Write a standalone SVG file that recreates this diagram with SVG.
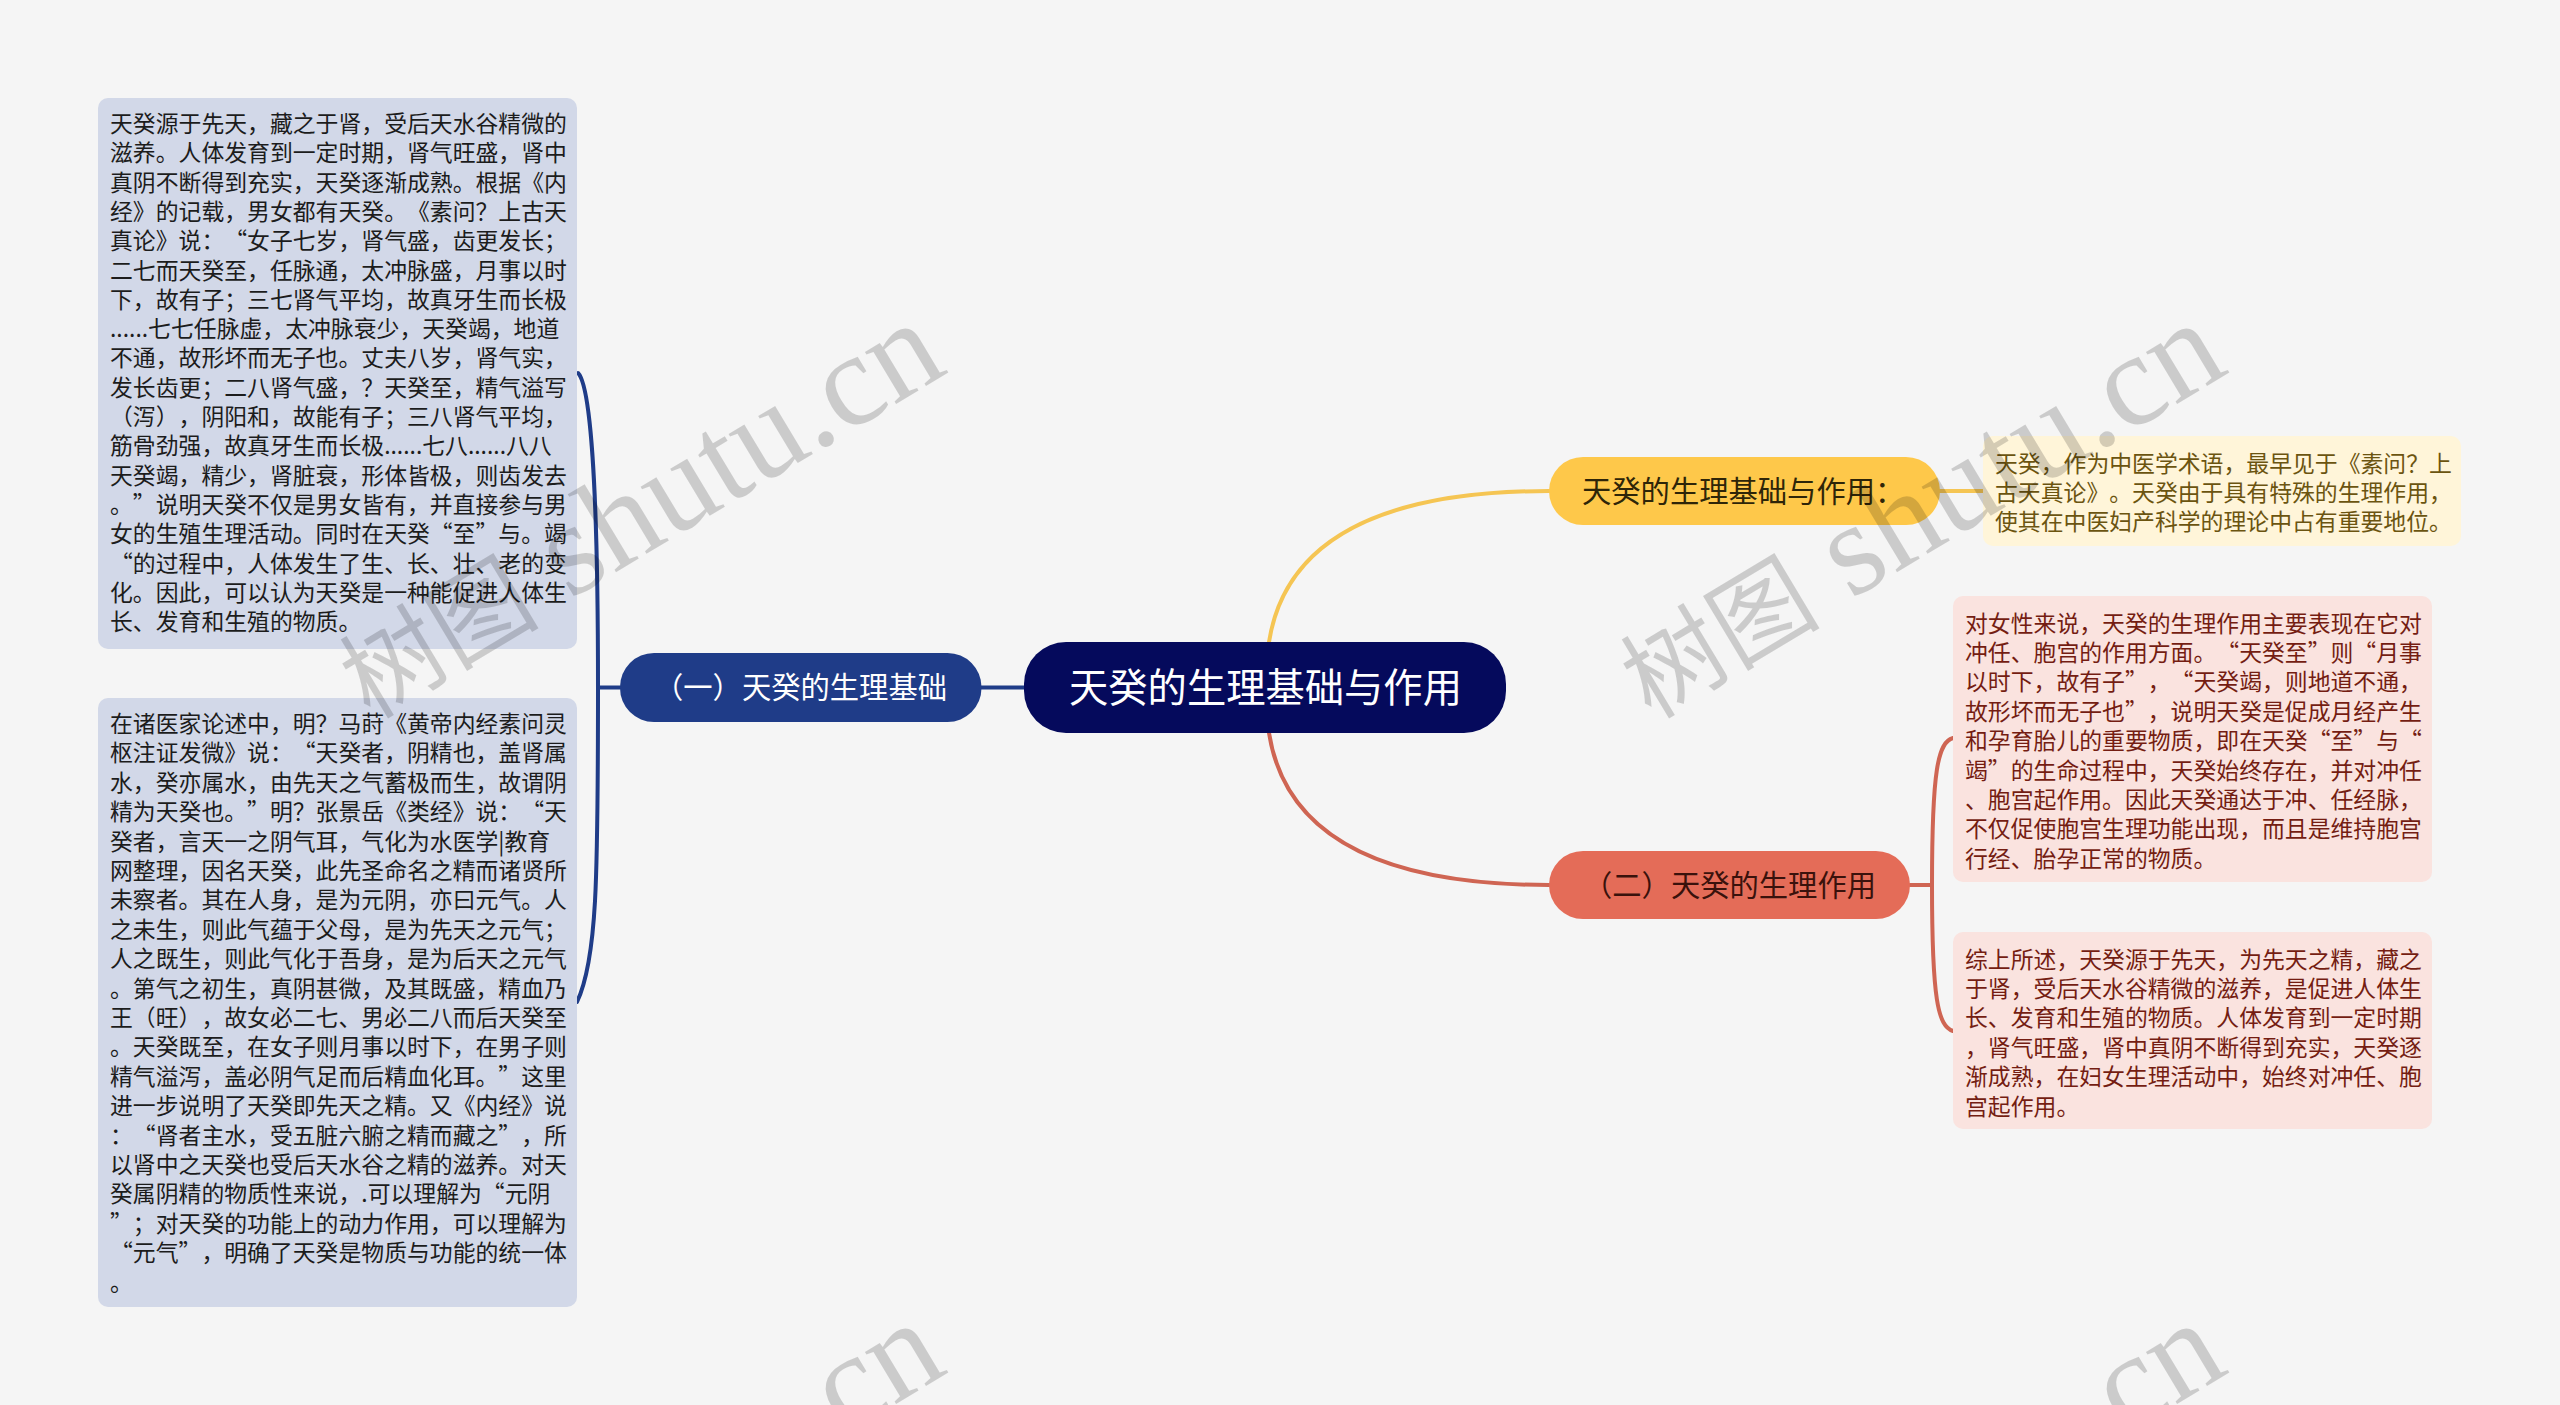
<svg xmlns="http://www.w3.org/2000/svg" width="2560" height="1405" viewBox="0 0 2560 1405">
<style>
text{font-family:"Noto Sans CJK SC","Liberation Sans",sans-serif;white-space:pre;text-spacing-trim:space-all}
.d{font-size:22.85px}
.n{font-size:29.3px}
.c{fill:none;stroke-width:4;stroke-linecap:round}
.bl{stroke:#1f3c88}
.ye{stroke:#f5c553}
.re{stroke:#cf6553}
.wm{font-family:"Liberation Serif","Noto Sans CJK SC",serif;font-size:132px;fill:#000;fill-opacity:.17}
.wm .cj{font-size:100px}
</style>
<rect width="2560" height="1405" fill="#f5f5f5"/>
<g id="connectors">
<path class="c bl" d="M981,687.5H1024"/>
<path class="c bl" d="M620,687.500H598"/>
<path class="c bl" d="M578,373C590,385 598,480 598,687C598,880 597,960 577,1002"/>
<path class="c ye" d="M1269,642C1285,540 1380,491 1549,491"/>
<path class="c re" d="M1269,733C1285,835 1380,885 1549,885"/>
<path class="c ye" d="M1940,491H1983"/>
<path class="c re" d="M1910,885H1932"/>
<path class="c re" d="M1953,738C1938,742 1932,770 1932,885C1932,1000 1938,1026 1953,1031"/>
</g>
<g id="root"><rect x="1024" y="642" width="482" height="91" rx="42" fill="#050a5c"/><text x="1069" y="702" font-size="39.300" fill="#fff">天癸的生理基础与作用</text></g>
<g id="branch-1"><rect x="620" y="653" width="361.500" height="69" rx="34" fill="#1f3c88"/><text class="n" x="654" y="698" fill="#fff">（一）天癸的生理基础</text></g>
<g id="branch-yellow"><rect x="1549" y="457" width="391" height="68" rx="34" fill="#fec84a"/><text class="n" x="1582" y="502" fill="#2e2508">天癸的生理基础与作用：</text></g>
<g id="branch-2"><rect x="1549" y="851" width="361" height="68" rx="34" fill="#e46c58"/><text class="n" x="1583" y="896" fill="#3a120c">（二）天癸的生理作用</text></g>
<g id="leaf-1">
<rect x="98" y="98" width="479" height="551" rx="10" fill="#d2d8e8"/>
<g fill="#1c1c1c">
<text class="d" x="110" y="132">天癸源于先天，藏之于肾，受后天水谷精微的</text>
<text class="d" x="110" y="161.300">滋养。人体发育到一定时期，肾气旺盛，肾中</text>
<text class="d" x="110" y="190.600">真阴不断得到充实，天癸逐渐成熟。根据《内</text>
<text class="d" x="110" y="219.900">经》的记载，男女都有天癸。《素问？上古天</text>
<text class="d" x="110" y="249.200">真论》说：“女子七岁，肾气盛，齿更发长；</text>
<text class="d" x="110" y="278.500">二七而天癸至，任脉通，太冲脉盛，月事以时</text>
<text class="d" x="110" y="307.800">下，故有子；三七肾气平均，故真牙生而长极</text>
<text class="d" x="110" y="337.100">......七七任脉虚，太冲脉衰少，天癸竭，地道</text>
<text class="d" x="110" y="366.400">不通，故形坏而无子也。丈夫八岁，肾气实，</text>
<text class="d" x="110" y="395.700">发长齿更；二八肾气盛，？天癸至，精气溢写</text>
<text class="d" x="110" y="425">（泻），阴阳和，故能有子；三八肾气平均，</text>
<text class="d" x="110" y="454.300">筋骨劲强，故真牙生而长极......七八......八八</text>
<text class="d" x="110" y="483.600">天癸竭，精少，肾脏衰，形体皆极，则齿发去</text>
<text class="d" x="110" y="512.900">。”说明天癸不仅是男女皆有，并直接参与男</text>
<text class="d" x="110" y="542.200">女的生殖生理活动。同时在天癸“至”与。竭</text>
<text class="d" x="110" y="571.500">“的过程中，人体发生了生、长、壮、老的变</text>
<text class="d" x="110" y="600.800">化。因此，可以认为天癸是一种能促进人体生</text>
<text class="d" x="110" y="630.100">长、发育和生殖的物质。</text>
</g></g>
<g id="leaf-2">
<rect x="98" y="698" width="479" height="609" rx="10" fill="#d2d8e8"/>
<g fill="#1c1c1c">
<text class="d" x="110" y="732">在诸医家论述中，明？马莳《黄帝内经素问灵</text>
<text class="d" x="110" y="761.400">枢注证发微》说：“天癸者，阴精也，盖肾属</text>
<text class="d" x="110" y="790.800">水，癸亦属水，由先天之气蓄极而生，故谓阴</text>
<text class="d" x="110" y="820.200">精为天癸也。”明？张景岳《类经》说：“天</text>
<text class="d" x="110" y="849.600">癸者，言天一之阴气耳，气化为水医学|教育</text>
<text class="d" x="110" y="879">网整理，因名天癸，此先圣命名之精而诸贤所</text>
<text class="d" x="110" y="908.400">未察者。其在人身，是为元阴，亦曰元气。人</text>
<text class="d" x="110" y="937.800">之未生，则此气蕴于父母，是为先天之元气；</text>
<text class="d" x="110" y="967.200">人之既生，则此气化于吾身，是为后天之元气</text>
<text class="d" x="110" y="996.600">。第气之初生，真阴甚微，及其既盛，精血乃</text>
<text class="d" x="110" y="1026">王（旺），故女必二七、男必二八而后天癸至</text>
<text class="d" x="110" y="1055.400">。天癸既至，在女子则月事以时下，在男子则</text>
<text class="d" x="110" y="1084.800">精气溢泻，盖必阴气足而后精血化耳。”这里</text>
<text class="d" x="110" y="1114.200">进一步说明了天癸即先天之精。又《内经》说</text>
<text class="d" x="110" y="1143.600">：“肾者主水，受五脏六腑之精而藏之”，所</text>
<text class="d" x="110" y="1173">以肾中之天癸也受后天水谷之精的滋养。对天</text>
<text class="d" x="110" y="1202.400">癸属阴精的物质性来说，.可以理解为“元阴</text>
<text class="d" x="110" y="1231.800">”；对天癸的功能上的动力作用，可以理解为</text>
<text class="d" x="110" y="1261.200">“元气”，明确了天癸是物质与功能的统一体</text>
<text class="d" x="110" y="1290.600">。</text>
</g></g>
<g id="leaf-yellow">
<rect x="1983" y="436" width="478" height="110" rx="10" fill="#fff5d9"/>
<g fill="#6b5410">
<text class="d" x="1995" y="471.500">天癸，作为中医学术语，最早见于《素问？上</text>
<text class="d" x="1995" y="500.900">古天真论》。天癸由于具有特殊的生理作用，</text>
<text class="d" x="1995" y="530.300">使其在中医妇产科学的理论中占有重要地位。</text>
</g></g>
<g id="leaf-3">
<rect x="1953" y="596" width="479" height="286" rx="10" fill="#fae3df"/>
<g fill="#741d12">
<text class="d" x="1965" y="631.500">对女性来说，天癸的生理作用主要表现在它对</text>
<text class="d" x="1965" y="660.900">冲任、胞宫的作用方面。“天癸至”则“月事</text>
<text class="d" x="1965" y="690.300">以时下，故有子”，“天癸竭，则地道不通，</text>
<text class="d" x="1965" y="719.700">故形坏而无子也”，说明天癸是促成月经产生</text>
<text class="d" x="1965" y="749.100">和孕育胎儿的重要物质，即在天癸“至”与“</text>
<text class="d" x="1965" y="778.500">竭”的生命过程中，天癸始终存在，并对冲任</text>
<text class="d" x="1965" y="807.900">、胞宫起作用。因此天癸通达于冲、任经脉，</text>
<text class="d" x="1965" y="837.300">不仅促使胞宫生理功能出现，而且是维持胞宫</text>
<text class="d" x="1965" y="866.700">行经、胎孕正常的物质。</text>
</g></g>
<g id="leaf-4">
<rect x="1953" y="932" width="479" height="197" rx="10" fill="#fae3df"/>
<g fill="#741d12">
<text class="d" x="1965" y="967.500">综上所述，天癸源于先天，为先天之精，藏之</text>
<text class="d" x="1965" y="996.900">于肾，受后天水谷精微的滋养，是促进人体生</text>
<text class="d" x="1965" y="1026.300">长、发育和生殖的物质。人体发育到一定时期</text>
<text class="d" x="1965" y="1055.700">，肾气旺盛，肾中真阴不断得到充实，天癸逐</text>
<text class="d" x="1965" y="1085.100">渐成熟，在妇女生理活动中，始终对冲任、胞</text>
<text class="d" x="1965" y="1114.500">宫起作用。</text>
</g></g>
<g id="watermarks">
<text class="wm" transform="translate(370,720) rotate(-31)"><tspan class="cj">树图</tspan> shutu.cn</text>
<text class="wm" transform="translate(1651,720) rotate(-31)"><tspan class="cj">树图</tspan> shutu.cn</text>
<text class="wm" transform="translate(370,1720) rotate(-31)"><tspan class="cj">树图</tspan> shutu.cn</text>
<text class="wm" transform="translate(1651,1720) rotate(-31)"><tspan class="cj">树图</tspan> shutu.cn</text>
</g>
</svg>
